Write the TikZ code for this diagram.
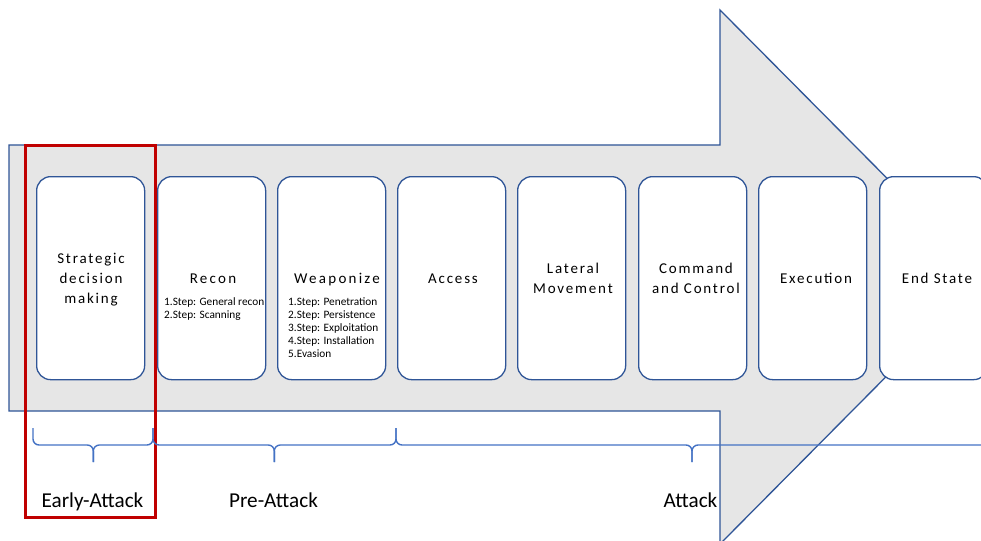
\documentclass[tikz,border=0pt]{standalone}
\usepackage{fontspec}
\setmainfont{Carlito}
\newfontfamily\boxfont[LetterSpace=12]{Carlito}
\newfontfamily\wideboxfont[LetterSpace=15]{Carlito}
\definecolor{arrowfill}{HTML}{E6E6E6}
\definecolor{edgeblue}{HTML}{2F5597}
\definecolor{bracecol}{HTML}{4472C4}
\definecolor{framered}{HTML}{C00000}

\begin{document}
\begin{tikzpicture}[x=1pt,y=-1pt,
  phase/.style={draw=edgeblue, line width=1.3pt, fill=white, rounded corners=14pt,
    minimum width=108pt, minimum height=203pt, inner sep=0pt, anchor=north west},
  % multi-line texts are anchored at the baseline of their last line
  title/.style={font=\boxfont\fontsize{15}{20}\selectfont, align=center, inner sep=0pt,
    anchor=base},
  bigtitle/.style={font=\wideboxfont\fontsize{15}{20}\selectfont, inner sep=0pt, anchor=base},
  steps/.style={font=\fontsize{11.3}{13}\selectfont, align=left, inner sep=0pt,
    anchor=base west},
  bracepath/.style={draw=bracecol, line width=1.4pt, rounded corners=6pt},
  stage/.style={font=\fontsize{21.2}{24}\selectfont, inner sep=0pt, anchor=base}
]
\useasboundingbox (0,0) rectangle (981,540);

% big background arrow
\draw[draw=edgeblue, line width=1.3pt, fill=arrowfill]
  (9,145) -- (720,145) -- (720,10) -- (985,277) -- (720,544) -- (720,411) -- (9,411) -- cycle;

% phase boxes
\node[phase] (b1) at (36,176) {};
\node[phase] (b2) at (157,176) {};
\node[phase] (b3) at (277,176) {};
\node[phase] (b4) at (397,176) {};
\node[phase] (b5) at (517,176) {};
\node[phase] (b6) at (638,176) {};
\node[phase] (b7) at (758,176) {};
\node[phase] (b8) at (879,176) {};

% phase titles
\node[title] (t1) at (91,303) {Strategic\\decision\\making};
\node[bigtitle] (t2) at (213,283) {Recon};
\node[bigtitle] (t3) at (337,283) {Weaponize};
\node[title] (t4) at (453,283) {Access};
\node[title] (t5) at (573,293) {Lateral\\Movement};
\node[title] (t6) at (696,293) {Command\\and Control};
\node[title] (t7) at (816,283) {Execution};
\node[title] (t8) at (937,283) {End State};

% step lists
\node[steps] (s2) at (164,318) {1.Step: General recon\\2.Step: Scanning};
\node[steps] (s3) at (288,357) {1.Step: Penetration\\2.Step: Persistence\\3.Step: Exploitation\\4.Step: Installation\\5.Evasion};

% highlight frame
\node[draw=framered, line width=3.4pt, minimum width=130pt, minimum height=372pt,
  inner sep=0pt, anchor=north west] (focus) at (24,143.7) {};

% braces
\coordinate (m1) at (93.3,462);
\coordinate (m2) at (274.3,462);
\coordinate (m3) at (692,462);
\draw[bracepath] (33,428) -- (33,445) -- (93.3,445) -- (m1);
\draw[bracepath] (153,428) -- (153,445) -- (93.3,445) -- (m1);
\draw[bracepath] (153,428) -- (153,445) -- (274.3,445) -- (m2);
\draw[bracepath] (396,428) -- (396,445) -- (274.3,445) -- (m2);
\draw[bracepath] (396,428) -- (396,445) -- (692,445) -- (m3);
\draw[bracepath] (988,428) -- (988,445) -- (692,445) -- (m3);

% stage labels
\node[stage] (early) at (92.5,507) {Early-Attack};
\node[stage] (pre) at (273.5,507) {Pre-Attack};
\node[stage] (att) at (690.5,507) {Attack};
\end{tikzpicture}
\end{document}
